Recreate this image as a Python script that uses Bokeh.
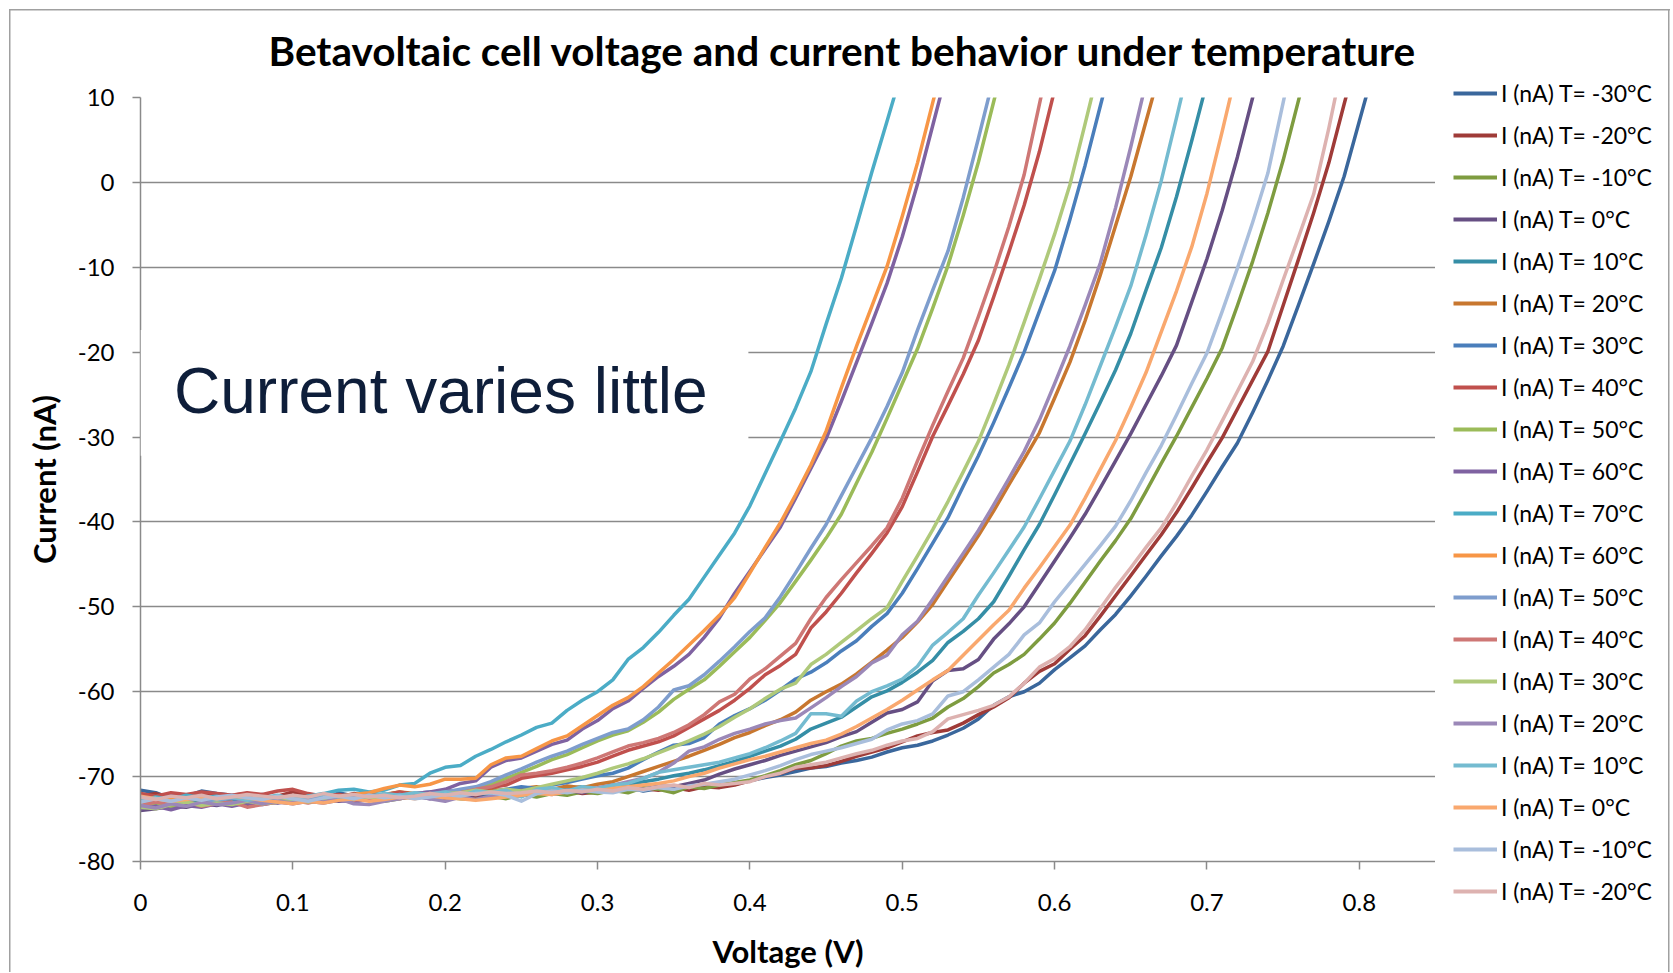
from bokeh.plotting import figure
from bokeh.layouts import row
from bokeh.models import (Range1d, FixedTicker, CustomJSTickFormatter, Legend,
                          LegendItem, Label, BoxAnnotation)
from bokeh.embed import file_html
from bokeh.resources import INLINE

voltage = [0.00, 0.01, 0.02, 0.03, 0.04, 0.05, 0.06, 0.07, 0.08, 0.09,
           0.10, 0.11, 0.12, 0.13, 0.14, 0.15, 0.16, 0.17, 0.18, 0.19,
           0.20, 0.21, 0.22, 0.23, 0.24, 0.25, 0.26, 0.27, 0.28, 0.29,
           0.30, 0.31, 0.32, 0.33, 0.34, 0.35, 0.36, 0.37, 0.38, 0.39,
           0.40, 0.41, 0.42, 0.43, 0.44, 0.45, 0.46, 0.47, 0.48, 0.49,
           0.50, 0.51, 0.52, 0.53, 0.54, 0.55, 0.56, 0.57, 0.58, 0.59,
           0.60, 0.61, 0.62, 0.63, 0.64, 0.65, 0.66, 0.67, 0.68, 0.69,
           0.70, 0.71, 0.72, 0.73, 0.74, 0.75, 0.76, 0.77, 0.78, 0.79,
           0.80, 0.81]

cur_m30_a = [-71.6, -71.9, -72.6, -72.3, -71.7, -72.0, -72.2, -72.4, -72.1, -72.6,
             -72.9, -72.5, -72.8, -71.9, -72.3, -72.6, -72.4, -72.1, -72.5, -72.2,
             -72.6, -72.0, -71.8, -72.3, -71.9, -72.2, -72.0, -71.7, -72.1, -71.6,
             -71.9, -71.5, -71.3, -71.7, -71.4, -71.1, -71.5, -70.9, -71.2,
             -70.9, -70.5, -70.1, -69.8, -69.4, -69.0, -68.8, -68.4, -68.1, -67.7,
             -67.1, -66.6, -66.3, -65.8, -65.1, -64.3, -63.2, -61.6, -60.6, -60.0,
             -59.0, -57.4, -56.0, -54.6, -52.7, -50.9, -48.7, -46.4, -44.0, -41.7,
             -39.2, -36.4, -33.5, -30.7, -27.1, -23.3, -19.3, -14.5, -9.6, -4.6,
             0.7, 7.2, 13.7]
cur_m20_a = [-72.3, -72.0, -72.4, -72.6, -72.1, -72.3, -72.2, -72.0, -72.5, -72.3,
             -71.8, -72.2, -72.7, -72.4, -72.0, -72.3, -72.1, -71.9, -72.4, -72.3,
             -72.6, -72.2, -72.4, -71.9, -72.1, -72.3, -71.8, -72.0, -71.7, -72.0,
             -71.8, -71.5, -71.7, -71.4, -71.6, -71.3, -71.6, -71.2, -71.3,
             -71.0, -70.5, -70.0, -69.6, -69.0, -69.0, -68.7, -68.2, -67.6, -67.1,
             -66.6, -65.9, -65.2, -64.8, -64.5, -63.7, -62.7, -61.8, -60.7, -59.0,
             -57.6, -56.7, -55.0, -53.4, -51.1, -48.7, -46.3, -43.9, -41.5, -38.9,
             -36.0, -33.0, -30.1, -26.7, -23.3, -19.9, -14.5, -9.1, -3.6, 2.3,
             9.2, 16.0]
cur_m10_a = [-72.0, -72.8, -72.5, -73.2, -72.9, -73.0, -72.7, -72.9, -73.1, -72.8,
             -73.0, -72.7, -72.9, -72.6, -72.8, -72.5, -72.9, -72.6, -72.3, -72.5,
             -72.4, -72.6, -72.7, -72.3, -72.6, -72.1, -72.4, -72.0, -72.2, -71.8,
             -72.0, -71.6, -71.9, -71.3, -71.5, -71.9, -71.2, -71.4, -71.0,
             -70.7, -70.4, -69.9, -69.3, -68.6, -68.1, -67.3, -66.4, -65.8, -65.5,
             -64.9, -64.4, -63.8, -63.1, -61.8, -60.8, -59.4, -57.8, -56.8, -55.6,
             -53.8, -51.9, -49.6, -47.1, -44.6, -42.2, -39.6, -36.4, -33.1, -29.9,
             -26.5, -23.1, -19.5, -14.5, -9.3, -3.6, 2.6, 9.6, 16.7]
cur_0_a = [-74.0, -73.8, -73.5, -73.6, -73.2, -73.4, -73.0, -73.3, -72.9, -73.1,
           -72.8, -73.0, -72.6, -72.9, -72.7, -72.4, -72.8, -72.5, -72.3, -72.6,
           -72.2, -72.5, -72.1, -72.3, -71.9, -72.2, -71.8, -72.0, -71.6, -71.9,
           -71.5, -71.7, -71.3, -71.5, -71.1, -71.2, -70.8,
           -70.4, -69.7, -69.1, -68.6, -68.1, -67.5, -67.0, -66.5, -66.0, -65.3,
           -64.7, -63.6, -62.5, -62.1, -61.2, -58.7, -57.5, -57.3, -56.2, -53.8,
           -52.0, -50.0, -47.3, -44.6, -41.9, -39.1, -36.0, -32.8, -29.6, -26.2,
           -22.8, -19.2, -14.1, -9.0, -3.3, 3.0, 10.0, 17.0]
cur_10_a = [-72.9, -73.2, -72.8, -73.0, -72.6, -72.9, -72.7, -73.1, -72.8, -72.5,
            -72.9, -72.6, -72.4, -72.7, -72.3, -72.6, -72.4, -72.1, -72.5, -72.2,
            -72.0, -72.3, -71.9, -72.1, -71.8, -72.0, -71.6, -71.9, -71.4, -71.2,
            -71.5, -71.0, -70.9, -70.6,
            -70.3, -69.9, -69.6, -69.2, -68.7, -68.2, -67.6, -67.0, -66.4, -65.6,
            -64.4, -63.7, -63.0, -61.8, -60.6, -59.9, -58.9, -57.7, -56.3, -54.2,
            -52.9, -51.4, -49.4, -46.4, -43.3, -40.3, -36.8, -33.2, -29.6, -25.9,
            -22.1, -17.8, -12.7, -7.7, -1.7, 4.9, 11.8]
cur_20_a = [-72.6, -72.9, -72.4, -72.7, -72.5, -72.8, -72.3, -72.6, -72.4, -72.7,
            -72.9, -72.6, -72.3, -72.5, -72.2, -72.4, -72.1, -71.8, -72.0, -72.3,
            -72.5, -72.1, -71.8, -71.5, -71.7, -71.4, -71.2, -71.5, -71.1, -71.3,
            -70.9,
            -70.6, -70.0, -69.4, -68.8, -68.2, -67.6, -66.9, -66.2, -65.4, -64.8,
            -64.0, -63.3, -62.4, -61.0, -60.0, -59.1, -57.9, -56.5, -55.1, -53.6,
            -51.8, -49.7, -47.0, -44.3, -41.6, -38.7, -35.6, -32.6, -29.5, -25.4,
            -21.2, -16.3, -10.9, -5.1, 0.7, 7.2, 13.7]
cur_30_a = [-72.2, -72.5, -72.0, -72.3, -72.7, -72.4, -72.6, -72.2, -72.5, -72.3,
            -72.8, -72.5, -72.7, -72.3, -72.6, -72.4, -72.1, -72.3, -72.0, -71.8,
            -72.1, -71.9, -71.6, -71.8, -71.5, -71.2, -71.4, -71.0,
            -70.7, -70.3, -69.9, -69.6, -69.0, -68.0, -67.1, -66.3, -66.1, -65.4,
            -63.8, -62.8, -62.0, -61.0, -59.8, -58.5, -57.7, -56.6, -55.2, -54.0,
            -52.3, -50.8, -48.4, -45.5, -42.5, -39.5, -35.8, -32.2, -28.3, -24.2,
            -20.0, -15.2, -10.4, -4.4, 2.0, 9.0, 16.0]
cur_40_a = [-72.0, -72.3, -71.9, -72.1, -71.8, -72.0, -72.2, -71.9, -72.1, -71.7,
            -71.5, -72.0, -72.3, -72.1, -72.4, -72.0, -72.2, -71.8, -72.1, -71.9,
            -71.6, -71.8, -71.4, -71.3,
            -71.0, -70.2, -69.9, -69.6, -69.2, -68.8, -68.3, -67.6, -66.9, -66.4,
            -65.9, -65.2, -64.2, -63.2, -62.2, -61.0, -59.6, -58.0, -56.9, -55.6,
            -52.5, -50.6, -48.4, -46.0, -43.7, -41.3, -38.2, -34.1, -29.9, -26.3,
            -22.6, -18.6, -13.5, -8.2, -2.7, 3.6, 10.9]
cur_50_a = [-73.5, -73.1, -73.6, -73.0, -73.3, -72.9, -73.2, -72.8, -73.0, -72.7,
            -72.9, -72.6, -72.8, -72.5, -72.7, -72.4, -72.6, -72.2, -72.4, -72.0,
            -71.8, -71.9,
            -71.6, -70.9, -70.2, -69.5, -68.8, -68.0, -67.4, -66.6, -65.8, -65.1,
            -64.6, -63.6, -62.4, -60.9, -59.7, -58.6, -57.0, -55.3, -53.6, -51.6,
            -49.5, -47.0, -44.5, -41.9, -39.1, -35.4, -31.8, -27.8, -23.7, -19.6,
            -14.8, -9.8, -3.9, 2.4, 9.5, 16.6]
cur_60_a = [-73.8, -73.5, -73.9, -73.4, -73.6, -73.2, -73.5, -73.1, -73.3, -73.0,
            -73.2, -72.9, -73.1, -72.8, -73.0, -72.7, -72.5, -72.2, -72.0, -71.8,
            -71.5, -70.8, -70.5, -68.9, -68.1, -67.8, -67.0, -66.2, -65.7, -64.4,
            -63.4, -62.0, -61.1, -59.6, -58.2, -57.0, -55.6, -53.6, -51.3, -48.4,
            -45.8, -43.2, -40.6, -37.2, -33.7, -30.2, -25.8, -21.2, -16.6, -11.9,
            -6.4, -0.2, 6.7, 13.6]
cur_70 = [-72.9, -72.4, -72.7, -72.2, -72.5, -72.3, -72.6, -72.4, -72.8, -72.5,
          -72.7, -72.3, -72.0, -71.6, -71.5, -71.8, -71.6,
          -71.0, -70.8, -69.6, -68.9, -68.7, -67.6, -66.8, -65.9, -65.1, -64.2,
          -63.7, -62.2, -61.0, -60.0, -58.6, -56.2, -54.8, -53.0, -51.0, -49.1,
          -46.5, -43.9, -41.3, -38.1, -34.3, -30.5, -26.6, -22.3, -16.7, -11.3,
          -5.1, 1.2, 7.2, 13.3]
cur_60_b = [-72.6, -72.9, -72.5, -72.8, -72.4, -72.7, -72.3, -72.6, -72.9, -72.7,
            -73.0, -72.8, -72.5, -72.3, -72.1, -71.9, -71.4, -71.0,
            -71.2, -70.9, -70.3, -70.3, -70.2, -68.6, -67.8, -67.6, -66.7, -65.8,
            -65.2, -64.0, -62.8, -61.6, -60.7, -59.4, -57.8, -56.2, -54.5, -52.8,
            -51.0, -48.9, -46.0, -43.0, -40.1, -36.8, -33.3, -29.3, -24.2, -19.3,
            -14.6, -9.9, -4.0, 2.3, 9.4, 16.4]
cur_50_b = [-73.0, -72.7, -73.1, -72.8, -72.6, -72.9, -72.5, -72.7, -72.4, -72.6,
            -72.8, -72.5, -72.3, -72.6, -72.4, -72.2, -72.5, -72.1, -72.3, -72.0,
            -71.8, -71.5,
            -71.2, -70.6, -69.8, -69.1, -68.3, -67.6, -67.0, -66.2, -65.5, -64.8,
            -64.4, -63.3, -61.8, -59.8, -59.3, -58.0, -56.4, -54.7, -52.9, -51.3,
            -48.8, -46.0, -43.1, -40.3, -36.9, -33.5, -30.1, -26.4, -22.4, -17.4,
            -12.7, -8.1, -1.8, 5.2, 12.4]
cur_40_b = [-73.4, -73.0, -73.3, -72.9, -73.5, -73.2, -73.0, -73.6, -73.3, -73.0,
            -72.8, -73.1, -72.7, -72.4, -72.8, -72.5, -72.3, -72.6, -72.2, -72.0,
            -72.3, -71.9, -71.5, -71.2,
            -70.6, -69.8, -69.6, -69.3, -68.9, -68.4, -67.8, -67.1, -66.4, -66.0,
            -65.5, -64.8, -63.9, -62.7, -61.2, -60.3, -58.5, -57.3, -55.8, -54.3,
            -51.4, -48.9, -46.8, -44.8, -42.8, -40.7, -37.2, -32.8, -28.6, -24.6,
            -20.7, -15.8, -10.7, -5.2, 0.9, 9.2, 17.4]
cur_30_b = [-73.6, -73.8, -73.3, -73.0, -73.4, -73.1, -73.3, -72.9, -73.2, -73.0,
            -72.7, -73.0, -72.8, -72.5, -72.7, -72.4, -72.6, -72.3, -72.5, -72.2,
            -72.0, -71.9, -71.6, -71.8, -71.5, -71.7,
            -71.3, -70.9, -70.5, -70.1, -69.6, -69.0, -68.5, -67.9, -67.2, -66.5,
            -65.8, -65.0, -64.1, -63.0, -62.0, -60.8, -59.7, -59.0, -56.8, -55.6,
            -54.2, -52.8, -51.4, -50.1, -47.0, -44.0, -40.9, -37.6, -34.1, -30.5,
            -26.1, -21.5, -16.5, -11.4, -6.1, -0.3, 6.9, 14.2]
cur_20_b = [-73.4, -73.7, -73.2, -73.5, -73.0, -73.3, -73.1, -72.8, -73.2, -72.9,
            -73.1, -72.8, -73.0, -72.6, -73.2, -73.3, -72.9, -72.6, -72.3, -72.6,
            -72.9, -72.4, -72.7, -72.3, -72.0, -72.2, -71.9, -72.1, -71.8, -71.5,
            -71.3,
            -71.0, -70.6, -70.2, -69.5, -68.4, -67.0, -66.5, -65.6, -64.9, -64.4,
            -63.8, -63.4, -63.1, -61.9, -60.7, -59.4, -58.2, -56.6, -55.7, -53.3,
            -51.7, -49.1, -46.4, -43.7, -41.0, -38.0, -34.9, -31.7, -28.0, -23.7,
            -19.3, -14.5, -9.5, -3.0, 4.2, 11.8]
cur_10_b = [-72.8, -72.5, -72.9, -72.6, -72.3, -72.7, -72.4, -72.8, -72.5, -72.2,
            -72.6, -72.3, -72.1, -72.4, -72.6, -72.3, -72.0, -72.2, -71.9, -72.1,
            -71.8, -72.3, -71.7, -71.9, -71.6, -72.4, -71.5, -71.3, -71.7, -71.2,
            -71.4, -71.0,
            -70.8, -70.2, -69.5, -69.2, -68.9, -68.6, -68.3, -67.8, -67.3, -66.6,
            -65.8, -64.9, -62.6, -62.6, -62.9, -61.1, -60.0, -59.3, -58.5, -57.0,
            -54.5, -53.0, -51.4, -48.6, -46.0, -43.3, -40.6, -37.3, -33.9, -30.5,
            -26.2, -21.6, -17.0, -12.2, -6.2, 0.2, 7.6, 15.2]
cur_0_b = [-72.3, -72.6, -72.9, -72.7, -72.4, -72.6, -72.3, -72.5, -72.8, -73.0,
           -73.2, -72.9, -73.1, -72.8, -72.6, -72.9, -72.7, -72.4, -72.6, -72.3,
           -72.5, -72.6, -72.8, -72.6, -72.4, -72.2, -72.0, -72.1, -71.8, -71.6,
           -71.7, -71.4, -71.2, -71.0, -70.8,
           -70.5, -70.0, -69.6, -69.0, -68.5, -68.0, -67.6, -67.1, -66.6, -66.1,
           -65.7, -65.0, -64.1, -63.1, -62.1, -61.0, -59.8, -58.6, -57.5, -55.7,
           -53.9, -52.1, -50.4, -47.8, -45.4, -42.9, -40.4, -37.2, -33.8, -30.4,
           -26.5, -22.4, -17.6, -12.8, -7.6, -1.3, 6.0, 13.6]
cur_m10_b = [-73.0, -72.6, -72.9, -72.5, -72.8, -72.4, -72.2, -72.5, -72.7, -72.3,
             -72.6, -72.9, -72.5, -72.3, -72.6, -72.2, -72.5, -72.3, -72.6, -72.4,
             -72.1, -72.3, -72.0, -71.9, -72.2, -72.9, -72.0, -71.7, -71.9, -71.6,
             -71.8, -71.9, -71.5, -71.6, -71.3, -71.5, -71.1, -70.9, -70.6,
             -70.3, -69.8, -69.3, -68.7, -68.0, -67.4, -67.0, -66.6, -66.1, -65.6,
             -64.5, -63.8, -63.4, -62.6, -60.5, -60.0, -58.6, -57.1, -55.6, -53.3,
             -51.9, -49.4, -47.2, -45.0, -42.8, -40.5, -37.5, -34.2, -31.0, -27.4,
             -23.7, -20.1, -15.2, -10.1, -4.7, 1.1, 9.4, 17.7]
cur_m20_b = [-72.4, -72.7, -72.3, -72.5, -72.2, -72.6, -72.4, -72.1, -72.3, -72.5,
             -72.2, -72.4, -72.0, -72.3, -72.1, -72.4, -72.2, -72.5, -72.3, -72.0,
             -72.2, -71.9, -72.1, -71.8, -72.0, -71.9, -71.7, -71.9, -71.6, -71.8,
             -71.5, -71.7, -71.3, -71.5, -71.2, -71.0, -71.3, -70.8, -71.0,
             -70.8, -70.6, -70.0, -69.6, -68.9, -68.6, -68.3, -67.8, -67.3, -66.9,
             -66.3, -65.8, -65.5, -64.7, -63.2, -62.7, -62.2, -61.6, -60.6, -59.0,
             -57.1, -56.1, -54.7, -52.7, -50.2, -47.7, -45.4, -43.0, -40.7, -37.8,
             -34.6, -31.5, -28.1, -24.6, -21.1, -16.6, -11.5, -6.5, -1.4, 6.4,
             15.0]

series_labels = ["I (nA) T= -30°C", "I (nA) T= -20°C", "I (nA) T= -10°C", "I (nA) T= 0°C",
                 "I (nA) T= 10°C", "I (nA) T= 20°C", "I (nA) T= 30°C", "I (nA) T= 40°C",
                 "I (nA) T= 50°C", "I (nA) T= 60°C", "I (nA) T= 70°C", "I (nA) T= 60°C",
                 "I (nA) T= 50°C", "I (nA) T= 40°C", "I (nA) T= 30°C", "I (nA) T= 20°C",
                 "I (nA) T= 10°C", "I (nA) T= 0°C", "I (nA) T= -10°C", "I (nA) T= -20°C"]
series_values = [cur_m30_a, cur_m20_a, cur_m10_a, cur_0_a, cur_10_a, cur_20_a, cur_30_a,
                 cur_40_a, cur_50_a, cur_60_a, cur_70, cur_60_b, cur_50_b, cur_40_b,
                 cur_30_b, cur_20_b, cur_10_b, cur_0_b, cur_m10_b, cur_m20_b]
series_colors = ["#3A679C", "#9F3B38", "#7E9C40", "#664F83", "#358EA6", "#C8772F",
                 "#4A7EBB", "#C0504D", "#9BBB59", "#7F62A1", "#4BACC6", "#F79646",
                 "#7E9DCD", "#CE7775", "#AFC97A", "#9B88B8", "#74BBD0", "#F9A86E",
                 "#A9BEDC", "#DDB2B0"]

x_ticks = [0, 0.1, 0.2, 0.3, 0.4, 0.5, 0.6, 0.7, 0.8]
y_ticks = [-80, -70, -60, -50, -40, -30, -20, -10, 0, 10]

GRID = "#8A8A8A"
H = 972

p = figure(width=1435, height=H, x_range=Range1d(0, 0.85), y_range=Range1d(-80, 10),
           output_backend="svg", toolbar_location=None,
           min_border_left=140, min_border_right=0, min_border_top=96, min_border_bottom=107,
           background_fill_color="white", border_fill_alpha=0)
p.outline_line_color = None

p.title.text = "Betavoltaic cell voltage and current behavior under temperature"
p.title.text_font = "Lato"
p.title.text_font_style = "bold"
p.title.text_font_size = "40.5px"
p.title.text_color = "#000000"
p.title.align = "left"
p.title.offset = 128
p.title.standoff = 46

p.xgrid.visible = False
p.ygrid.grid_line_color = GRID
p.ygrid.grid_line_width = 1.5
p.ygrid.ticker = FixedTicker(ticks=y_ticks)

for ax in (p.xaxis[0], p.yaxis[0]):
    ax.axis_line_color = GRID
    ax.axis_line_width = 1.5
    ax.major_tick_line_color = GRID
    ax.major_tick_line_width = 1.5
    ax.major_tick_in = 0
    ax.major_tick_out = 8
    ax.minor_tick_line_color = None
    ax.major_label_text_font = "Lato"
    ax.major_label_text_font_size = "24px"
    ax.major_label_text_color = "#000000"
    ax.axis_label_text_font = "Lato"
    ax.axis_label_text_font_style = "bold"
    ax.axis_label_text_font_size = "31px"
    ax.axis_label_text_color = "#000000"

p.xaxis.ticker = FixedTicker(ticks=x_ticks)
p.xaxis.formatter = CustomJSTickFormatter(code="return tick == 0 ? '0' : tick.toFixed(1);")
p.xaxis.axis_label = "Voltage (V)"
p.xaxis.major_label_standoff = 24
p.xaxis.axis_label_standoff = 18
p.yaxis.ticker = FixedTicker(ticks=y_ticks)
p.yaxis.formatter = CustomJSTickFormatter(code="return tick.toFixed(0);")
p.yaxis.axis_label = "Current (nA)"
p.yaxis.major_label_standoff = 18
p.yaxis.axis_label_standoff = 12

# legend panel: a second figure to the right; its ranges keep its copies of the lines out of view
q = figure(width=235, height=H, x_range=Range1d(100, 101), y_range=Range1d(100, 101),
           output_backend="svg", toolbar_location=None, title=None,
           x_axis_location=None, y_axis_location=None,
           min_border_left=0, min_border_right=0, min_border_top=0, min_border_bottom=0,
           background_fill_alpha=0, border_fill_alpha=0)
q.outline_line_color = None
q.xgrid.visible = False
q.ygrid.visible = False
for fig in (p, q):
    try:
        fig.frame_align = False
    except Exception:
        pass

items = []
for lab, vals, col in zip(series_labels, series_values, series_colors):
    n = min(len(vals), len(voltage))
    p.line(voltage[:n], vals[:n], line_color=col, line_width=3.5, line_join="round")
    swatch = q.line(voltage[:n], vals[:n], line_color=col, line_width=4)
    items.append(LegendItem(label=lab, renderers=[swatch]))

box = BoxAnnotation(right=0.399, top=-17.4, bottom=-32.2, fill_color="white",
                    fill_alpha=1.0, line_alpha=0)
p.add_layout(box)
note = Label(x=0.022, y=-24.6, text="Current varies little", text_font="Liberation Sans",
             text_font_size="64px", text_color="#0E1E3A", text_baseline="alphabetic")
p.add_layout(note)

legend = Legend(items=items, location=(18, 66), orientation="vertical",
                glyph_width=44, glyph_height=30, label_height=30, spacing=12,
                padding=0, margin=0, label_standoff=4,
                label_text_font="Lato", label_text_font_size="23px",
                label_text_color="#000000",
                border_line_alpha=0, background_fill_alpha=0)
q.add_layout(legend)

# thin chart-area frame (top, left, right edges) drawn as CSS background lines behind the figures
LINE = "linear-gradient(#A0A0A0, #A0A0A0)"
layout = row(p, q, styles={
    "background-color": "white",
    "background-image": f"{LINE}, {LINE}, {LINE}",
    "background-size": "1661px 1.5px, 1.5px 970px, 1.5px 970px",
    "background-position": "9px 9px, 9px 9px, 1668px 9px",
    "background-repeat": "no-repeat",
})

open("out.html", "w").write(file_html(layout, INLINE))
